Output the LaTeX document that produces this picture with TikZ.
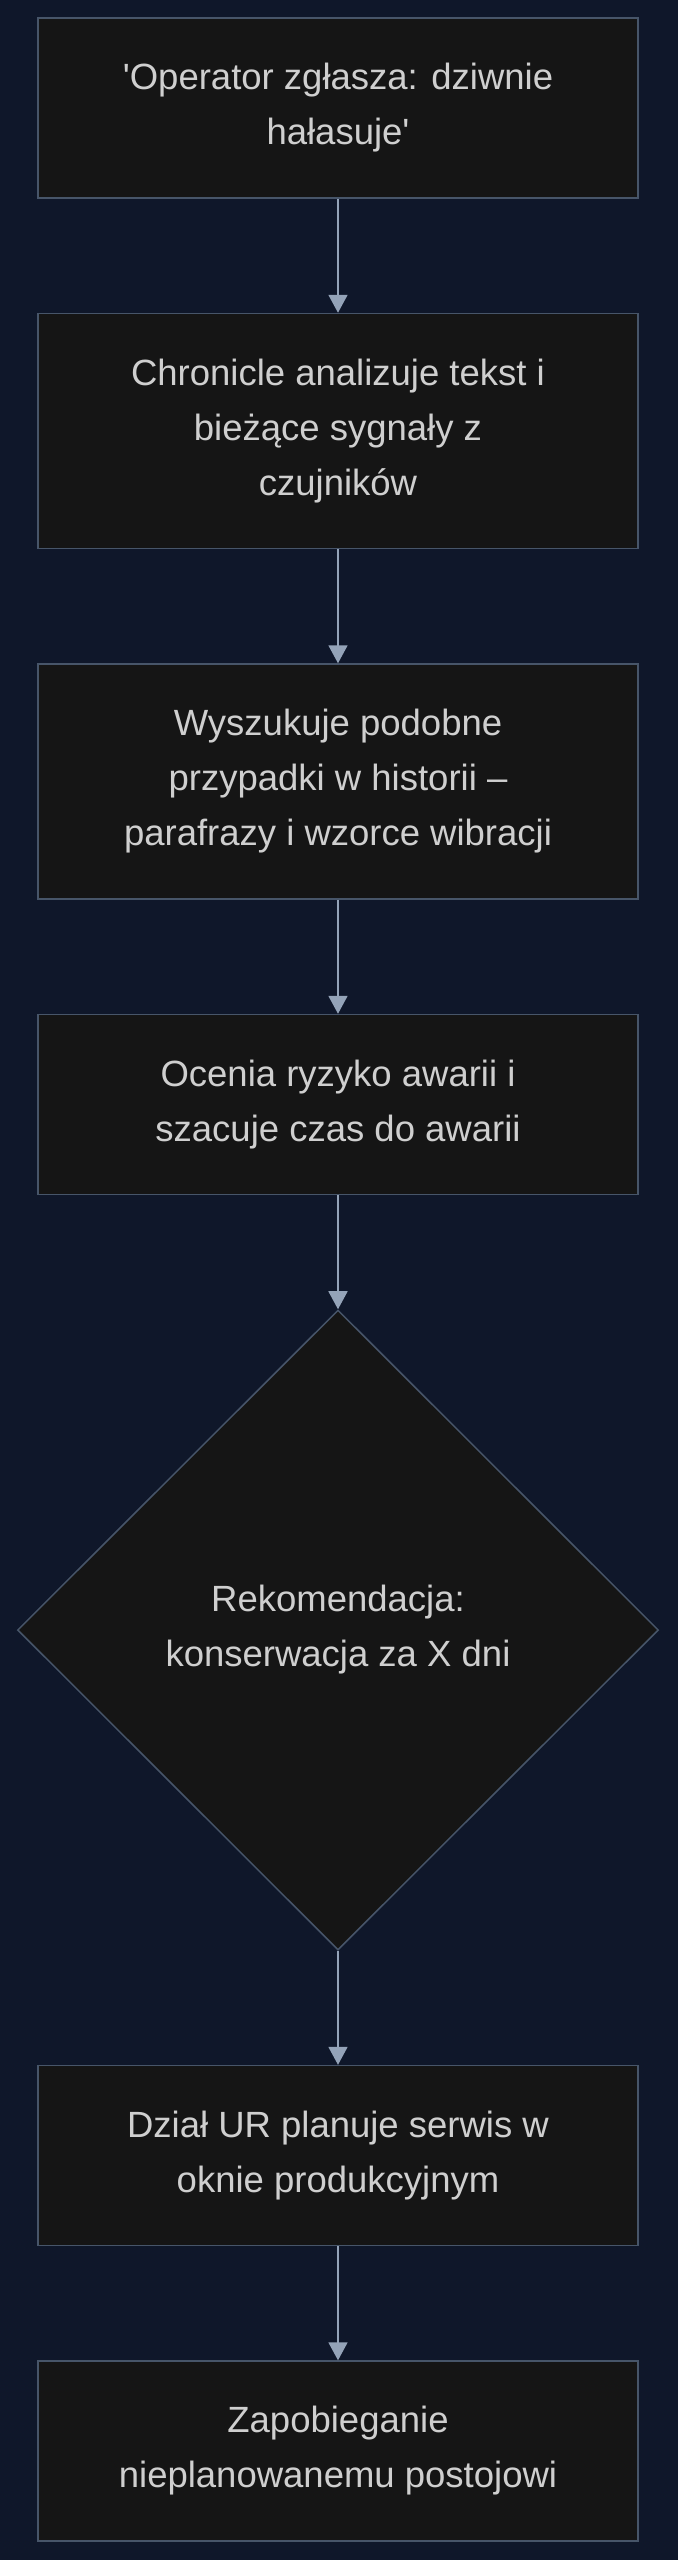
\documentclass[tikz,border=0pt]{standalone}
\usepackage{fontspec}
\setmainfont{Liberation Sans}
\usetikzlibrary{positioning,chains,shapes.geometric,arrows.meta}
\definecolor{bgnavy}{HTML}{0F172A}
\definecolor{boxfill}{HTML}{151515}
\definecolor{boxline}{HTML}{475569}
\definecolor{arrowgray}{HTML}{94A3B8}
\definecolor{txtgray}{HTML}{CFCFCF}
\tikzset{
    x=1bp, y=1bp,
    stepbox/.style={
        rectangle,
        fill=boxfill,
        draw=boxline, line width=1.5bp,
        text=txtgray,
        minimum width=600bp,
        minimum height=180bp,
        align=center,
        font=\fontsize{36.5bp}{55bp}\selectfont,
        on chain
    },
    tallbox/.style={stepbox, minimum height=235bp},
    decision/.style={
        diamond,
        fill=boxfill,
        draw=boxline, line width=1.5bp,
        text=txtgray,
        minimum width=641bp,
        minimum height=640bp,
        inner sep=0pt,
        align=center,
        font=\fontsize{36.5bp}{55bp}\selectfont,
        on chain
    },
    line/.style={draw=arrowgray, line width=1.8bp,
        -{Triangle[length=18bp,width=19bp]}}
}
\begin{document}
\begin{tikzpicture}[start chain=going below, node distance=114bp]
    \useasboundingbox (0,0) rectangle (678,-2560);
    \fill[bgnavy] (-10,10) rectangle (688,-2570);

    \node[stepbox] (report) at (338,-108) {\textquotesingle Operator zgłasza: dziwnie\\hałasuje\textquotesingle};
    \node[tallbox] (analyse) {Chronicle analizuje tekst i\\bieżące sygnały z\\czujników};
    \node[tallbox] (search) {Wyszukuje podobne\\przypadki w historii –\\parafrazy i wzorce wibracji};
    \node[stepbox] (risk) {Ocenia ryzyko awarii i\\szacuje czas do awarii};
    \node[decision] (recommend) {Rekomendacja:\\konserwacja za X dni};
    \node[stepbox] (plan) {Dział UR planuje serwis w\\oknie produkcyjnym};
    \node[stepbox] (prevent) {Zapobieganie\\nieplanowanemu postojowi};

    \draw[line] (report) -- (analyse);
    \draw[line] (analyse) -- (search);
    \draw[line] (search) -- (risk);
    \draw[line] (risk) -- (recommend);
    \draw[line] (recommend) -- (plan);
    \draw[line] (plan) -- (prevent);
\end{tikzpicture}
\end{document}
